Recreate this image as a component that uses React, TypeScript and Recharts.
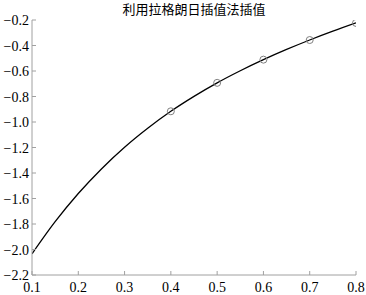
import { LineChart, Line, XAxis, YAxis } from "recharts";

const title = "利用拉格朗日插值法插值";

// interpolated curve
const curveX = [0.1, 0.15, 0.2, 0.25, 0.3, 0.35, 0.4, 0.45, 0.5, 0.55, 0.6, 0.65, 0.7, 0.75, 0.8];
const curveY = [-2.034, -1.782, -1.561, -1.368, -1.198, -1.049, -0.916, -0.799, -0.693, -0.598, -0.511, -0.431, -0.357, -0.288, -0.223];

// nodes marked with circles
const nodeX = [0.4, 0.5, 0.6, 0.7, 0.8];
const nodeY = [-0.916, -0.693, -0.511, -0.357, -0.223];

const xTicks = [0.1, 0.2, 0.3, 0.4, 0.5, 0.6, 0.7, 0.8];
const yTicks = [-2.2, -2.0, -1.8, -1.6, -1.4, -1.2, -1.0, -0.8, -0.6, -0.4, -0.2];

const curve = curveX.map((x, i) => ({ x, y: curveY[i] }));
const nodes = nodeX.map((x, i) => ({ x, y: nodeY[i] }));

const font = "'Liberation Serif', 'Times New Roman', serif";
const gray = "#a0a0a0";

const fmtY = (v: number) => (v < 0 ? "\u2212" : "") + Math.abs(v).toFixed(1);

const renderXTick = (props: any) => (
    <text
        key={props.index}
        x={props.x}
        y={props.y + 9}
        textAnchor="middle"
        fill="#000"
        fontFamily={font}
        fontSize={14}
        style={{ fontFamily: font, fontSize: 14 }}
    >
        {Number(props.payload.value).toFixed(1)}
    </text>
);

const renderYTick = (props: any) => (
    <text
        key={props.index}
        x={props.x + 1}
        y={props.y + 5}
        textAnchor="end"
        fill="#000"
        fontFamily={font}
        fontSize={14}
        style={{ fontFamily: font, fontSize: 14 }}
    >
        {fmtY(Number(props.payload.value))}
    </text>
);

export default function App() {
    return (
        <div style={{ position: "absolute", left: 0, top: 0, width: 366, height: 295, background: "#fff" }}>
            <div
                style={{
                    position: "absolute",
                    left: 32,
                    width: 324,
                    top: 1,
                    textAlign: "center",
                    fontFamily: "'Noto Sans CJK SC', sans-serif",
                    fontSize: 13,
                    lineHeight: "15px",
                    color: "#000",
                }}
            >
                {title}
            </div>
            <LineChart
                width={366}
                height={295}
                margin={{ top: 20, right: 10, bottom: 0, left: 0 }}
            >
                <XAxis
                    dataKey="x"
                    type="number"
                    domain={[0.1, 0.8]}
                    ticks={xTicks}
                    allowDataOverflow
                    height={20}
                    tickSize={-4}
                    tickMargin={12}
                    stroke={gray}
                    tick={renderXTick}
                />
                <XAxis
                    xAxisId="top"
                    orientation="top"
                    dataKey="x"
                    type="number"
                    domain={[0.1, 0.8]}
                    ticks={xTicks}
                    allowDataOverflow
                    height={0}
                    tickSize={-4}
                    tick={false}
                    stroke="#000"
                />
                <YAxis
                    type="number"
                    domain={[-2.2, -0.2]}
                    ticks={yTicks}
                    allowDataOverflow
                    width={32}
                    tickSize={-4}
                    tickMargin={8}
                    stroke={gray}
                    tick={renderYTick}
                />
                <YAxis
                    yAxisId="right"
                    orientation="right"
                    type="number"
                    domain={[-2.2, -0.2]}
                    ticks={yTicks}
                    allowDataOverflow
                    width={0}
                    tickSize={-4}
                    tick={false}
                    stroke={gray}
                />
                <Line
                    data={curve}
                    dataKey="y"
                    type="monotone"
                    stroke="#000"
                    strokeWidth={1.3}
                    dot={false}
                    activeDot={false}
                    isAnimationActive={false}
                />
                <Line
                    data={nodes}
                    dataKey="y"
                    type="linear"
                    stroke="none"
                    dot={{ r: 3.5, stroke: "#808080", strokeWidth: 1, fill: "none" }}
                    activeDot={false}
                    isAnimationActive={false}
                />
            </LineChart>
        </div>
    );
}
